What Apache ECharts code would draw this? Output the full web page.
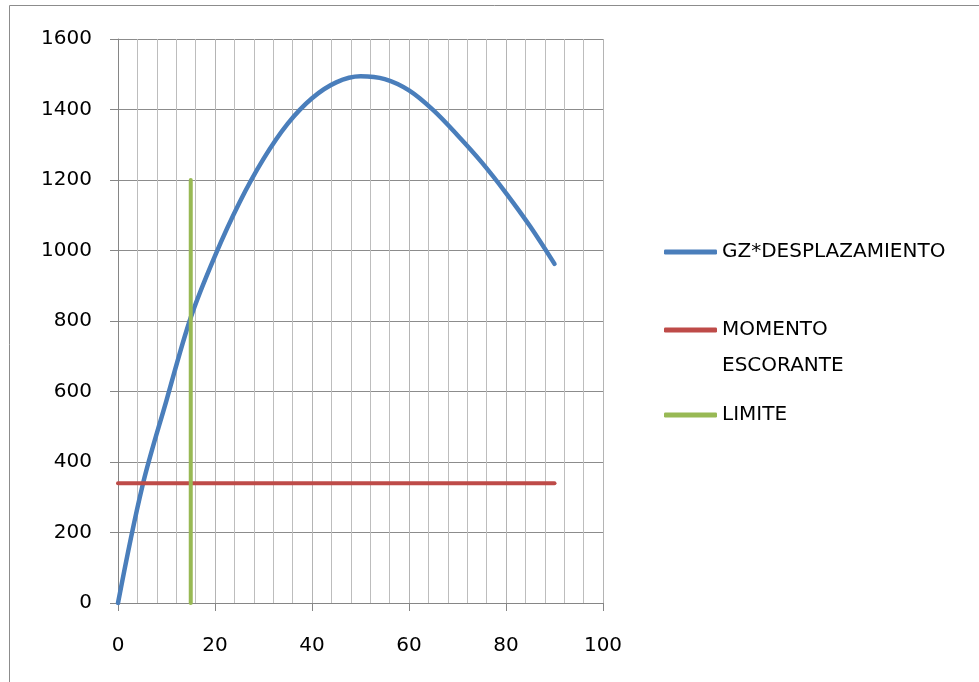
<!DOCTYPE html>
<html><head><meta charset="utf-8">
<script src="https://cdn.jsdelivr.net/npm/echarts@6/dist/echarts.min.js"></script>
<style>html,body{margin:0;padding:0;background:#fff}#c{width:979px;height:682px}</style>
</head><body><div id="c"></div>
<script>
const angles = [0,5,10,15,20,25,30,35,40,45,50,55,60,65,70,75,80,85,90];
const gzDesplazamiento = [0,330,575,810,985,1135,1260,1360,1432,1477,1494,1486,1454,1398,1327,1250,1163,1068,962];
const momentoX = [0,90];
const momentoY = [340,340];
const limiteX = [15,15];
const limiteY = [0,1200];
const names = ['GZ*DESPLAZAMIENTO','MOMENTO ESCORANTE','LIMITE'];
const colors = ['#4a7ebb','#be4b48','#98b954'];

const font = 'DejaVu Sans';
const chart = echarts.init(document.getElementById('c'));
const zip = (xs, ys) => xs.map((x,i)=>[x, ys[i]]);
const legendBase = {
  orient:'vertical', left:659, itemWidth:53, itemHeight:5, icon:'roundRect',
  textStyle:{fontFamily:font, fontSize:20, color:'#000'}
};
chart.setOption({
  animation:false,
  graphic:[{type:'rect', shape:{x:9.5,y:5.5,width:1000,height:700}, style:{fill:'none', stroke:'#8c8c8c', lineWidth:1}, silent:true}],
  grid:{left:118, right:376, top:39, bottom:79},
  legend:[
    Object.assign({}, legendBase, {top:237, data:[names[0]]}),
    Object.assign({}, legendBase, {top:271, data:[names[1]], formatter:()=> ' \nMOMENTO\nESCORANTE',
      textStyle:{fontFamily:font, fontSize:20, color:'#000', lineHeight:36}}),
    Object.assign({}, legendBase, {top:400, data:[names[2]]})
  ],
  xAxis:{type:'value', min:0, max:100, interval:20,
    axisLine:{lineStyle:{color:'#868686'}},
    axisTick:{show:true, length:8, lineStyle:{color:'#868686'}},
    axisLabel:{fontFamily:font, fontSize:20, color:'#000', margin:33},
    splitLine:{show:true, lineStyle:{color:'#b4b4b4', width:1}},
    minorTick:{show:false, splitNumber:5},
    minorSplitLine:{show:true, lineStyle:{color:'#bdbdbd', width:1}}
  },
  yAxis:{type:'value', min:0, max:1600, interval:200,
    axisLine:{show:true, lineStyle:{color:'#868686'}},
    axisTick:{show:true, length:8, lineStyle:{color:'#868686'}},
    axisLabel:{fontFamily:font, fontSize:20, color:'#000', margin:26, formatter:v=>String(v)},
    splitLine:{show:true, lineStyle:{color:'#8c8c8c', width:1}}
  },
  series:[
    {name:names[0], type:'line', data:zip(angles,gzDesplazamiento), smooth:0.35, symbol:'none',
      lineStyle:{color:colors[0], width:4.5, cap:'round'}, itemStyle:{color:colors[0]}},
    {name:names[1], type:'line', data:zip(momentoX,momentoY), symbol:'none',
      lineStyle:{color:colors[1], width:4, cap:'round'}, itemStyle:{color:colors[1]}},
    {name:names[2], type:'line', data:zip(limiteX,limiteY), symbol:'none',
      lineStyle:{color:colors[2], width:4, cap:'round'}, itemStyle:{color:colors[2]}}
  ]
});
</script></body></html>
